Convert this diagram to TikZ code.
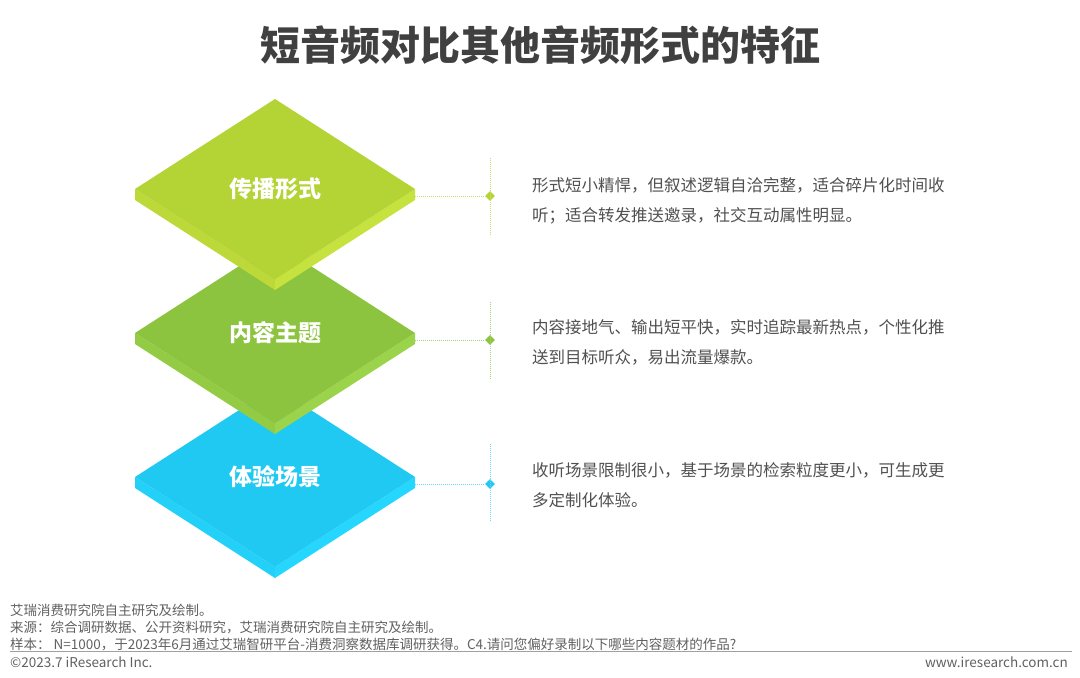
\documentclass[tikz,border=0pt]{standalone}
\usepackage{fontspec}
\setmainfont{Noto Sans CJK SC}
\usepackage{tikz}
\usetikzlibrary{
  positioning,
  calc,
  shapes.geometric
}
\definecolor{TitleGray}{RGB}{64,64,64}
\definecolor{BodyGray}{RGB}{80,80,80}
\definecolor{FootGray}{RGB}{96,96,96}
\definecolor{RuleGray}{RGB}{160,160,160}
\definecolor{LimeFace}{RGB}{180,211,52}
\definecolor{LimeLeft}{RGB}{188,217,57}
\definecolor{LimeRight}{RGB}{198,226,62}
\definecolor{LimeDot}{RGB}{196,224,110}
\definecolor{GrassFace}{RGB}{140,196,63}
\definecolor{GrassLeft}{RGB}{147,204,68}
\definecolor{GrassRight}{RGB}{155,212,74}
\definecolor{GrassDot}{RGB}{165,210,112}
\definecolor{SkyFace}{RGB}{31,201,241}
\definecolor{SkyLeft}{RGB}{34,208,248}
\definecolor{SkyRight}{RGB}{37,215,255}
\definecolor{SkyDot}{RGB}{110,216,246}
\tikzset{
  titletext/.style={font=\fontsize{40}{44}\selectfont\bfseries,text=TitleGray},
  layerlabel/.style={font=\fontsize{23}{26}\selectfont\bfseries,text=white},
  bodytext/.style={anchor=west,align=left,inner sep=0pt,font=\fontsize{16.5}{30}\selectfont,text=BodyGray},
  foottext/.style={anchor=west,inner sep=0pt,font=\fontsize{13.5}{15}\selectfont,text=FootGray},
  marker/.style={diamond,inner sep=0pt,minimum size=10pt,fill=#1},
  leader/.style={draw=#1,line width=1pt,dash pattern=on 1pt off 1pt}
}
\begin{document}
\begin{tikzpicture}[x=1pt,y=-1pt]
\useasboundingbox (0,0) rectangle (1080,678);
\node[titletext] (title) at (540,45) {短音频对比其他音频形式的特征};

% stacked layers, drawn bottom first
\foreach \cy/\lname/\face/\lside/\rside/\txt in {
  477/exp/SkyFace/SkyLeft/SkyRight/体验场景,
  333/con/GrassFace/GrassLeft/GrassRight/内容主题,
  189/spr/LimeFace/LimeLeft/LimeRight/传播形式}{
  \fill[\lside] (135,\cy) -- (275,\cy+90) -- (275,\cy+101) -- (135,\cy+11) -- cycle;
  \fill[\rside] (415,\cy) -- (275,\cy+90) -- (275,\cy+101) -- (415,\cy+11) -- cycle;
  \fill[\face] (275,\cy-90) -- (415,\cy) -- (275,\cy+90) -- (135,\cy) -- cycle;
  \node[layerlabel] (\lname) at (275,\cy) {\txt};
  \coordinate (\lname-r) at (415,\cy+7);
}

% leaders and markers
\node[marker=LimeFace] (spr-m) at (490,196) {};
\coordinate (spr-t) at (490,158);
\coordinate (spr-b) at (490,236);
\draw[leader=LimeDot] (spr-r) -- (spr-m);
\draw[leader=LimeDot] (spr-t) -- (spr-b);

\node[marker=GrassFace] (con-m) at (490,340) {};
\coordinate (con-t) at (490,302);
\coordinate (con-b) at (490,379);
\draw[leader=GrassDot] (con-r) -- (con-m);
\draw[leader=GrassDot] (con-t) -- (con-b);

\node[marker=SkyFace] (exp-m) at (490,484) {};
\coordinate (exp-t) at (490,444);
\coordinate (exp-b) at (490,522);
\draw[leader=SkyDot] (exp-r) -- (exp-m);
\draw[leader=SkyDot] (exp-t) -- (exp-b);

\node[bodytext] (spr-d) at (532,201) {形式短小精悍，但叙述逻辑自洽完整，适合碎片化时间收\\听；适合转发推送邀录，社交互动属性明显。};
\node[bodytext] (con-d) at (532,342) {内容接地气、输出短平快，实时追踪最新热点，个性化推\\送到目标听众，易出流量爆款。};
\node[bodytext] (exp-d) at (532,485) {收听场景限制很小，基于场景的检索粒度更小，可生成更\\多定制化体验。};

% footer
\node[foottext] (note) at (10,610) {艾瑞消费研究院自主研究及绘制。};
\node[foottext] (src) at (10,627) {来源：综合调研数据、公开资料研究，艾瑞消费研究院自主研究及绘制。};
\node[foottext] (smp) at (10,644) {样本： N=1000，于2023年6月通过艾瑞智研平台-消费洞察数据库调研获得。C4.请问您偏好录制以下哪些内容题材的作品?};
\coordinate (rule-l) at (10,651);
\coordinate (rule-r) at (1072,651);
\draw[RuleGray,line width=1pt] (rule-l) -- (rule-r);
\node[foottext] (copy) at (10,662) {©2023.7 iResearch Inc.};
\node[foottext,anchor=east] (web) at (1068,662) {www.iresearch.com.cn};
\end{tikzpicture}
\end{document}
